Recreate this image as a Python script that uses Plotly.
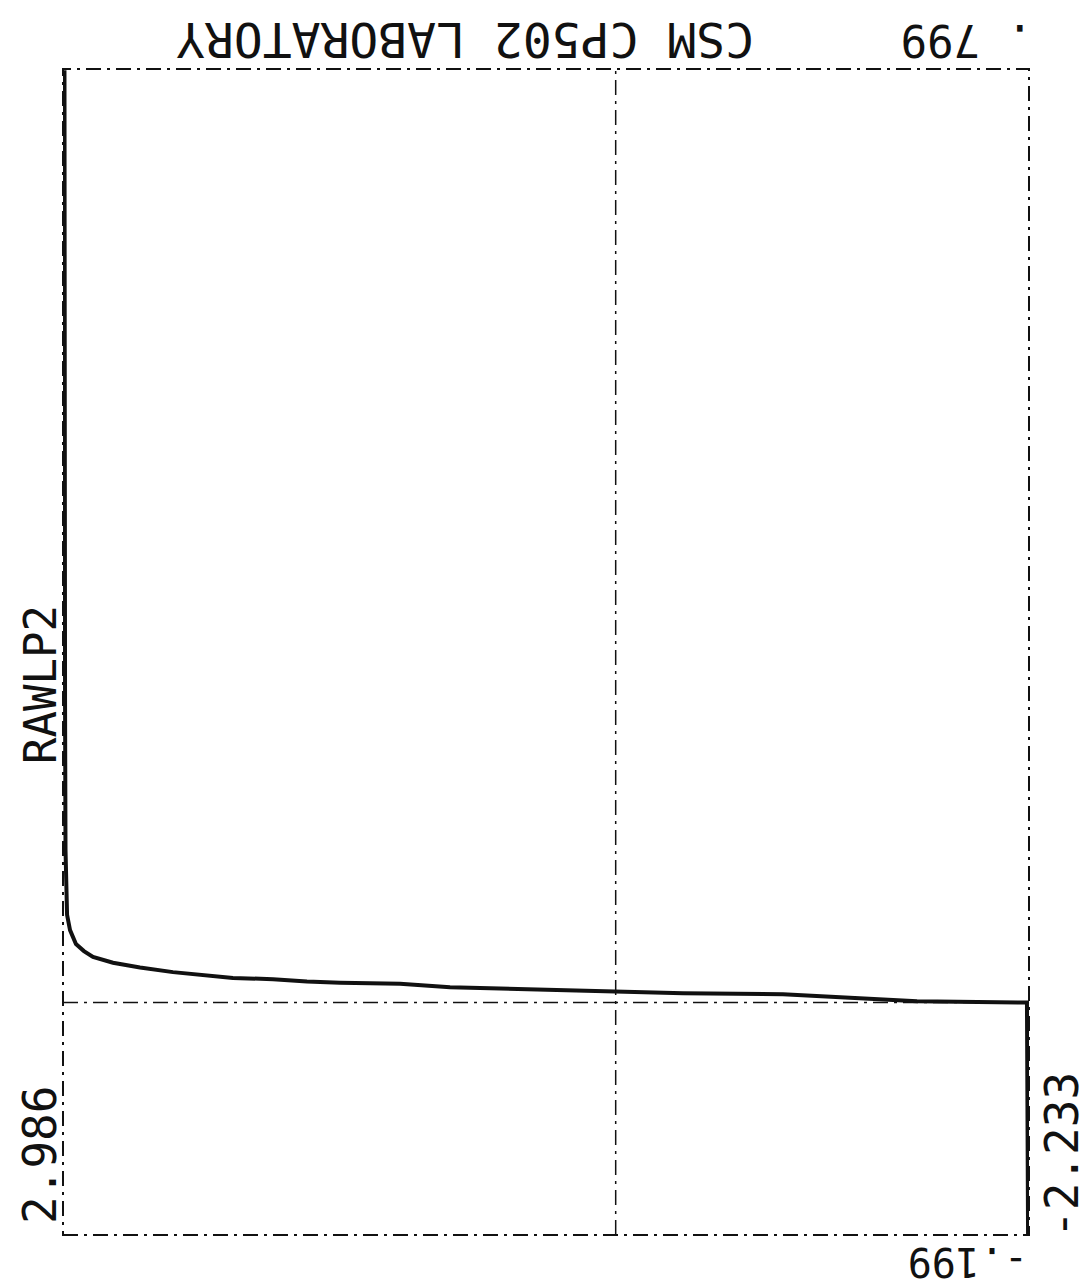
import plotly.graph_objects as go

# RAWLP2 trace (plotter output, page turned over)
curve_x = [2.978, 2.978, 2.975, 2.9725, 2.970, 2.964, 2.948, 2.916, 2.873, 2.824,
           2.716, 2.570, 2.392, 2.262, 2.068, 1.851, 1.668, 1.489, 1.165, 0.895,
           0.625, 0.355, 0.004, -0.364, -0.904, -1.266, -1.444, -1.628, -2.222, -2.228]
curve_y = [0.798, 0.516, 0.259, 0.131, 0.096, 0.075, 0.062, 0.050, 0.044, 0.039,
           0.034, 0.030, 0.026, 0.024, 0.021, 0.020, 0.018, 0.017, 0.016, 0.013,
           0.012, 0.011, 0.010, 0.008, 0.007, 0.004, 0.002, 0.001, 0.000, -0.199]

x_limits = [2.986, -2.233]
y_limits = [-0.199, 0.799]
x_labels = ["2.986", "-2.233"]
y_labels = ["-.199", ". 799"]
title_text = "CSM CP502 LABORATORY"
series_name = "RAWLP2"

W, H = 1090, 1288
L, R, T, B = 63, 61, 69, 53
PW, PH = W - L - R, H - T - B


def px(xp):
    return (xp - L) / PW


def py(yp):
    return (H - B - yp) / PH


FONT = "DejaVu Sans Mono"
INK = "#111111"

fig = go.Figure()
fig.add_trace(go.Scatter(x=curve_x, y=curve_y, mode="lines",
                         line=dict(color=INK, width=4), showlegend=False,
                         hoverinfo="skip"))

shapes = [
    # dashed frame
    dict(type="rect", xref="paper", yref="paper", x0=0, x1=1, y0=0, y1=1,
         line=dict(color=INK, width=2, dash="longdashdot"), layer="below"),
    # zero lines
    dict(type="line", xref="x", yref="paper", x0=0, x1=0, y0=0, y1=1,
         line=dict(color=INK, width=1.5, dash="longdashdot"), layer="below"),
    dict(type="line", xref="paper", yref="y", x0=0, x1=1, y0=0, y1=0,
         line=dict(color=INK, width=1.5, dash="longdashdot"), layer="below"),
]

ann = []
ann.append(dict(text=title_text, x=px(465), y=py(40), textangle=180,
                font=dict(size=48, family=FONT, color=INK)))
ann.append(dict(text=y_labels[1], x=px(967), y=py(40), textangle=180,
                font=dict(size=44, family=FONT, color=INK)))
ann.append(dict(text=y_labels[0], x=px(968), y=py(1262), textangle=180,
                font=dict(size=40, family=FONT, color=INK)))
ann.append(dict(text=series_name, x=px(40), y=py(685), textangle=-90,
                font=dict(size=44, family=FONT, color=INK)))
ann.append(dict(text=x_labels[0], x=px(40), y=py(1155), textangle=-90,
                font=dict(size=46, family=FONT, color=INK)))
ann.append(dict(text=x_labels[1], x=px(1062), y=py(1155), textangle=-90,
                font=dict(size=46, family=FONT, color=INK)))
for a in ann:
    a.update(xref="paper", yref="paper", showarrow=False,
             xanchor="center", yanchor="middle")

fig.update_layout(
    width=W, height=H,
    margin=dict(l=L, r=R, t=T, b=B),
    paper_bgcolor="white", plot_bgcolor="white",
    xaxis=dict(range=x_limits, showgrid=False, zeroline=False, showticklabels=False,
               ticks="", showline=False),
    yaxis=dict(range=y_limits, showgrid=False, zeroline=False, showticklabels=False,
               ticks="", showline=False),
    shapes=shapes, annotations=ann,
)

fig.write_html("out.html")
